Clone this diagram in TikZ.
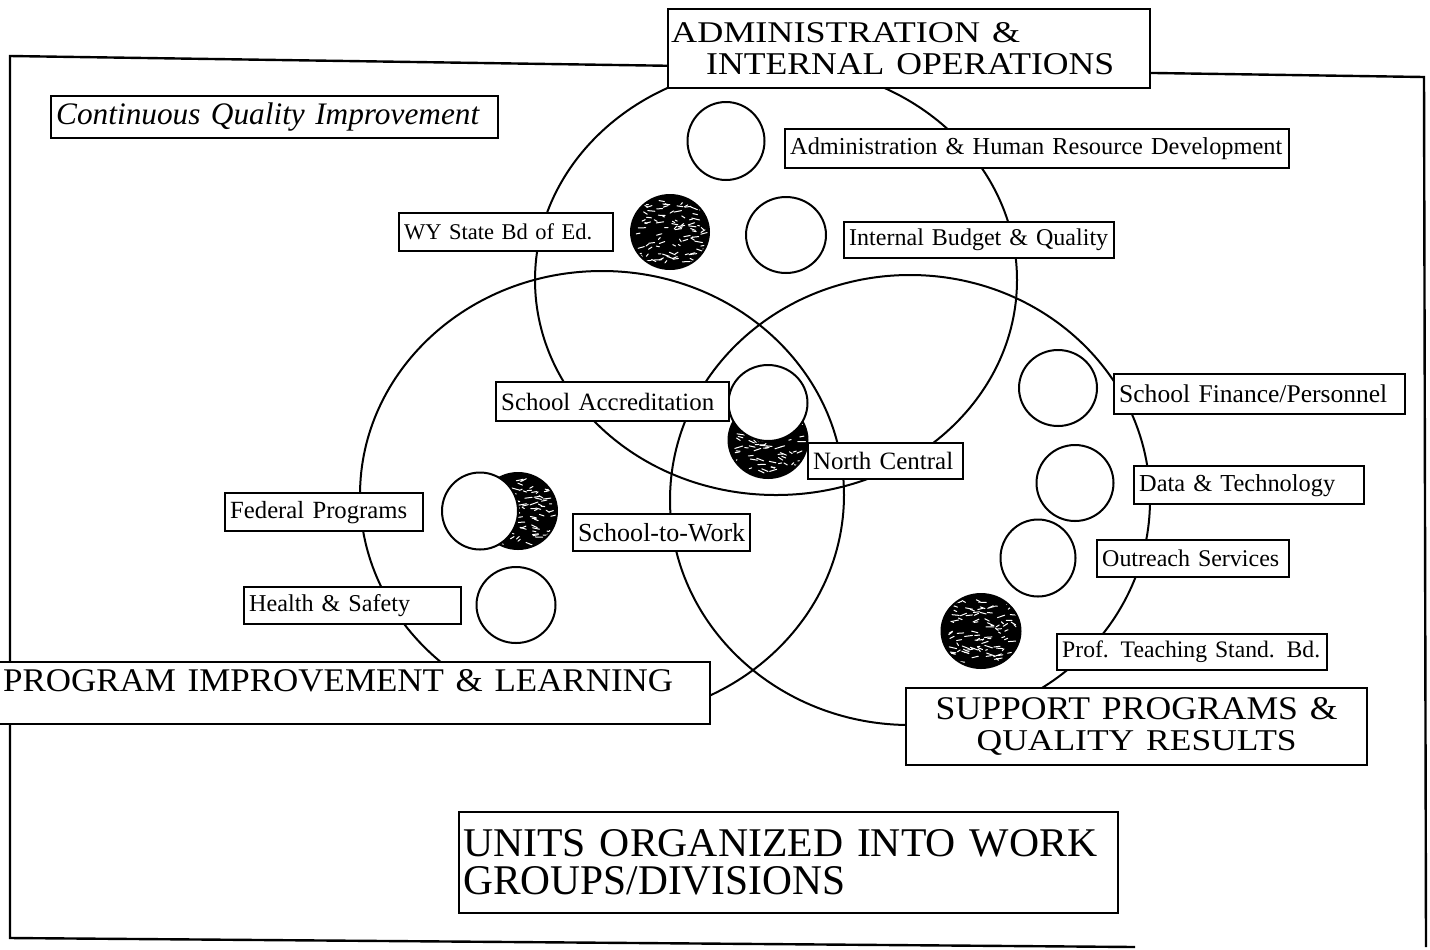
\documentclass[tikz,border=0pt]{standalone}
\usepackage{fontspec}
\setmainfont{Liberation Serif}
\usetikzlibrary{shapes.geometric}
\begin{document}
\begin{tikzpicture}[x=0.5pt,y=-0.5pt,
  frame/.style={line width=1.2pt, line join=miter},
  bigset/.style={ellipse, draw, line width=1pt, inner sep=0pt},
  unit/.style={ellipse, draw, line width=1pt, fill=white, inner sep=0pt},
  darkunit/.style={ellipse, draw, line width=1pt, fill=black, inner sep=0pt,
    path picture={
      \foreach \k in {1,...,95}{
        \pgfmathsetmacro\xa{rand*17}
        \pgfmathsetmacro\ya{rand*16}
        \pgfmathsetmacro\dl{0.8+rnd*3.2}
        \pgfmathsetmacro\dy{rand*1.4}
        \draw[white, line width=0.5pt, line cap=round]
          ([shift={(\xa pt,\ya pt)}]path picture bounding box.center) -- ++(\dl pt,\dy pt);
      }
    }},
  lab/.style={draw, fill=white, line width=1.2pt, anchor=north west,
    inner ysep=0pt, inner xsep=2.5pt, align=left},
]
\pgfmathsetseed{11}
\useasboundingbox (0,0) rectangle (1430,949);

% outer frame
\draw[frame] (1135,947) -- (10,938) -- (10,56) -- (1424,77) -- (1426,947);

% three work groups
\node[bigset, minimum width=241pt, minimum height=215pt] (adm) at (776,280) {};
\node[bigset, minimum width=242pt, minimum height=224pt] (prog) at (602,495) {};
\node[bigset, minimum width=240pt, minimum height=225pt] (supp) at (910,500) {};

% units
\node[unit, minimum width=38.5pt, minimum height=39pt] (u1) at (726,141) {};
\node[darkunit, minimum width=39pt, minimum height=37pt] (u2) at (670,232) {};
\node[unit, minimum width=40pt, minimum height=38pt] (u3) at (786,235) {};
\node[darkunit, minimum width=39.5pt, minimum height=38pt] (u4) at (768,440) {};
\node[unit, minimum width=39.5pt, minimum height=38pt] (u5) at (768,403) {};
\node[darkunit, minimum width=39pt, minimum height=38pt] (u6) at (518,511) {};
\node[unit, minimum width=38pt, minimum height=38.5pt] (u7) at (480,511) {};
\node[unit, minimum width=39.5pt, minimum height=38pt] (u8) at (516,605) {};
\node[unit, minimum width=39pt, minimum height=38pt] (u9) at (1058,388) {};
\node[unit, minimum width=38.5pt, minimum height=38pt] (u10) at (1075,483) {};
\node[unit, minimum width=37.5pt, minimum height=38.5pt] (u11) at (1038,558) {};
\node[darkunit, minimum width=39.5pt, minimum height=37pt] (u12) at (981,631) {};

% small labels
\node[lab, text width=218.5pt, minimum height=21pt] (cqi) at (50,95)
  {\resizebox{211.5pt}{!}{\itshape Continuous Quality Improvement}};
\node[lab, text width=247pt, minimum height=19.5pt] (hrd) at (784,128)
  {\resizebox{246pt}{!}{Administration \& Human Resource Development}};
\node[lab, text width=102pt, minimum height=19pt] (wy) at (398,212)
  {\resizebox{94pt}{!}{WY State Bd of Ed.}};
\node[lab, text width=130pt, minimum height=18pt] (ibq) at (843,221)
  {\resizebox{129.5pt}{!}{Internal Budget \& Quality}};
\node[lab, text width=111.5pt, minimum height=19.5pt] (sa) at (495,381)
  {\resizebox{106.5pt}{!}{School Accreditation}};
\node[lab, text width=72.5pt, minimum height=18pt] (nc) at (807,442)
  {\resizebox{70pt}{!}{North Central}};
\node[lab, text width=94pt, minimum height=19pt] (fp) at (224,492)
  {\resizebox{88.5pt}{!}{Federal Programs}};
\node[lab, text width=83.5pt, minimum height=18.5pt] (stw) at (572,513)
  {\resizebox{83.5pt}{!}{School-to-Work}};
\node[lab, text width=103.5pt, minimum height=18.5pt] (hs) at (243,586)
  {\resizebox{80.5pt}{!}{Health \& Safety}};
\node[lab, text width=140.5pt, minimum height=20pt] (sf) at (1113,373)
  {\resizebox{134pt}{!}{School Finance/Personnel}};
\node[lab, text width=110pt, minimum height=19pt] (dt) at (1133,465)
  {\resizebox{98pt}{!}{Data \& Technology}};
\node[lab, text width=91pt, minimum height=18.5pt] (os) at (1096,539)
  {\resizebox{88.5pt}{!}{Outreach Services}};
\node[lab, text width=130pt, minimum height=18pt] (pt) at (1056,633)
  {\resizebox{129pt}{!}{Prof. Teaching Stand. Bd.}};

% big labels
\node[lab, inner xsep=1.5pt, text width=238pt, minimum height=39.5pt,
  font=\fontsize{10}{16}\selectfont] (admlab) at (667,8)
  {\resizebox{174.5pt}{10pt}{ADMINISTRATION \&}\\
   \hspace*{17.5pt}\resizebox{204pt}{10.5pt}{INTERNAL OPERATIONS}};
\node[lab, inner xsep=6pt, text width=347.5pt, text height=14.5pt, text depth=16.5pt]
  (proglab) at (-10,661)
  {\resizebox{335pt}{11pt}{PROGRAM IMPROVEMENT \& LEARNING}};
\node[lab, align=center, inner xsep=2pt, text width=226.5pt, minimum height=38.5pt,
  font=\fontsize{10}{15.5}\selectfont] (supplab) at (905,687)
  {\resizebox{201pt}{11pt}{SUPPORT PROGRAMS \&}\\
   \resizebox{160pt}{10pt}{QUALITY RESULTS}};
\node[lab, inner xsep=2pt, text width=325.5pt, minimum height=50.5pt,
  font=\fontsize{10}{19}\selectfont] (unitslab) at (458,811)
  {\resizebox{317pt}{13.5pt}{UNITS ORGANIZED INTO WORK}\\
   \resizebox{191pt}{14pt}{GROUPS/DIVISIONS}};
\end{tikzpicture}
\end{document}
